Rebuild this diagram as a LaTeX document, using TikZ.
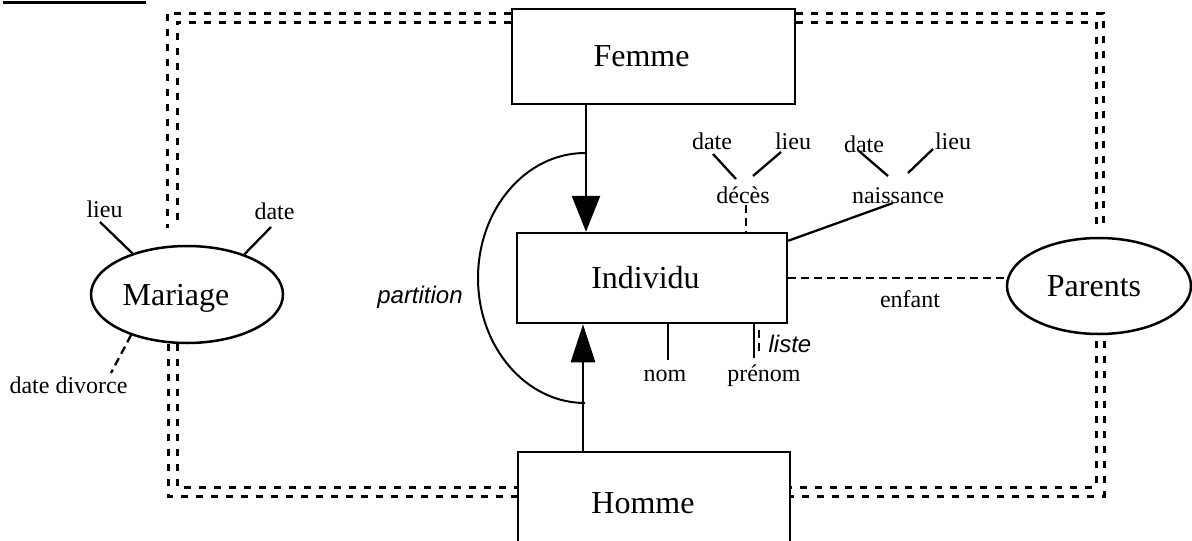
\documentclass[tikz,border=0pt]{standalone}
\usepackage{fontspec}
\setmainfont{Liberation Serif}
\newfontfamily\labsans{Liberation Sans}
\usetikzlibrary{shapes.geometric,arrows.meta}
\begin{document}
\begin{tikzpicture}[x=1pt,y=-1pt,
  ent/.style={draw, line width=2.5pt, inner sep=0pt, font=\fontsize{32}{36}\selectfont},
  rel/.style={draw, ellipse, line width=2.5pt, inner sep=0pt, text depth=0pt, font=\fontsize{32}{36}\selectfont},
  attr/.style={inner sep=0pt, anchor=base, font=\fontsize{24}{28}\selectfont},
  notelab/.style={inner sep=0pt, anchor=base, font=\labsans\itshape\fontsize{24}{28}\selectfont},
  aline/.style={line width=2.3pt},
  adash/.style={line width=2.3pt, dash pattern=on 8pt off 5pt},
  dframe/.style={line width=3pt, dash pattern=on 7pt off 8pt},
  isa/.style={line width=2.8pt},
  partarc/.style={line width=2pt}
]
\useasboundingbox (0,0) rectangle (1192,541);

% top-left rule
\coordinate (r1) at (3,2);
\coordinate (r2) at (146,2);
\draw[line width=3pt] (r1) -- (r2);

% entities and relations
\node[ent, minimum width=283pt, minimum height=95pt] (femme) at (653.5,56.5) {\hspace*{-24pt}Femme};
\node[ent, minimum width=270pt, minimum height=90pt] (individu) at (652,278) {\hspace*{-13pt}Individu};
\node[ent, minimum width=272pt, minimum height=102pt] (homme) at (654,503) {\hspace*{-22pt}Homme};
\node[rel, minimum width=192pt, minimum height=97pt] (mariage) at (187,294.5) {\hspace*{-22pt}Mariage};
\node[rel, minimum width=184pt, minimum height=96pt] (parents) at (1099,286) {\hspace*{-10pt}Parents};

% frame corners
\coordinate (oTL) at (167,13);
\coordinate (iTL) at (177,22);
\coordinate (oTR) at (1103,13);
\coordinate (iTR) at (1096,22);
\coordinate (oBL) at (168,496);
\coordinate (iBL) at (177,487);
\coordinate (oBR) at (1104,496);
\coordinate (iBR) at (1096,487);

% double dashed connectors
\draw[dframe, shorten >=17pt] (femme.west |- oTL) -- (oTL) -- (oTL |- mariage.north);
\draw[dframe, shorten >=17pt] (femme.west |- iTL) -- (iTL) -- (iTL |- mariage.north);
\draw[dframe] (oBL |- mariage.south) -- (oBL) -- (homme.west |- oBL);
\draw[dframe] (iBL |- mariage.south) -- (iBL) -- (homme.west |- iBL);
\draw[dframe, shorten >=10pt] (femme.east |- oTR) -- (oTR) -- (oTR |- parents.north);
\draw[dframe, shorten >=10pt] (femme.east |- iTR) -- (iTR) -- (iTR |- parents.north);
\draw[dframe, shorten <=6pt] (oBR |- parents.south) -- (oBR) -- (homme.east |- oBR);
\draw[dframe, shorten <=6pt] (iBR |- parents.south) -- (iBR) -- (homme.east |- iBR);

% specialisation arrows
\coordinate (fx) at (586,0);
\coordinate (hx) at (583,0);
\draw[isa, -{Triangle[length=36pt,width=28pt]}] (femme.south -| fx) -- (individu.north -| fx);
\draw[isa, -{Triangle[length=38pt,width=24pt]}] (homme.north -| hx) -- (individu.south -| hx);

% partition arc
\coordinate (pa) at (585,153);
\draw[partarc] (pa) arc[start angle=270, end angle=90, x radius=107, y radius=125];
\node[notelab] (partlab) at (420,303) {partition};

% Mariage attributes
\node[attr] (mlieu) at (104.5,217) {lieu};
\node[attr] (mdate) at (274.5,219) {date};
\node[attr] (mdiv) at (68.5,393) {date divorce};
\draw[aline] ([xshift=-4.5pt,yshift=-5pt]mlieu.base) -- (mariage.143);
\draw[aline] ([xshift=-3.5pt,yshift=-8pt]mdate.base) -- (mariage.35);
\draw[adash] (mariage.216) -- ([xshift=42.5pt,yshift=20pt]mdiv.base);

% Individu attributes
\node[attr] (deces) at (743,203) {décès};
\node[attr] (ddate) at (712,149) {date};
\node[attr] (dlieu) at (793,149) {lieu};
\node[attr] (naiss) at (898,203) {naissance};
\node[attr] (ndate) at (864,152) {date};
\node[attr] (nlieu) at (953,149) {lieu};
\node[attr] (enfant) at (910,307) {enfant};
\node[attr] (nom) at (665,381) {nom};
\node[attr] (prenom) at (764,381) {prénom};
\node[notelab] (liste) at (790,352) {liste};

\draw[aline] ([xshift=1pt,yshift=-5pt]ddate.base) -- ([xshift=-7pt,yshift=24pt]deces.base);
\draw[aline] ([xshift=-12pt,yshift=-3pt]dlieu.base) -- ([xshift=10pt,yshift=27pt]deces.base);
\draw[adash] ([xshift=3pt,yshift=-2pt]deces.base) -- ([xshift=3pt]deces.base |- individu.north);
\draw[aline] ([yshift=-9pt]individu.north east) -- ([xshift=-5pt]naiss.base);
\draw[aline] ([xshift=-5pt,yshift=1pt]ndate.base) -- ([xshift=-10pt,yshift=27pt]naiss.base);
\draw[aline] ([xshift=-20pt]nlieu.base) -- ([xshift=10pt,yshift=30pt]naiss.base);
\draw[adash] (individu.east) -- (individu.east -| parents.west);
\draw[aline] ([xshift=16pt]individu.south) -- ([xshift=3pt,yshift=21pt]nom.base);
\draw[aline] ([xshift=102pt]individu.south) -- ([xshift=-10pt,yshift=23pt]prenom.base);
\draw[adash] ([xshift=-5pt,yshift=51pt]prenom.base) -- ([xshift=-5pt,yshift=29pt]prenom.base);
\end{tikzpicture}
\end{document}
